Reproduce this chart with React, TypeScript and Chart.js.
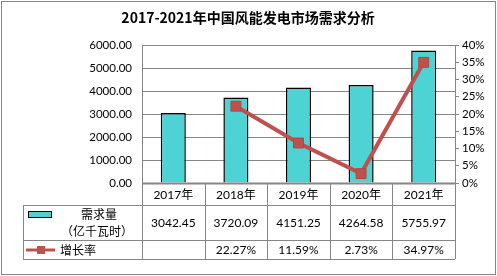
import React, { useEffect, useRef } from "react";
import { Chart, registerables } from "chart.js";

Chart.register(...registerables);

const title = "2017-2021年中国风能发电市场需求分析";
const categories = ["2017年", "2018年", "2019年", "2020年", "2021年"];
const demand = [3042.45, 3720.09, 4151.25, 4264.58, 5755.97];
const growth: (number | null)[] = [null, 22.27, 11.59, 2.73, 34.97];
const demandLabel = ["需求量", "（亿千瓦时）"];
const growthLabel = "增长率";
const demandText = ["3042.45", "3720.09", "4151.25", "4264.58", "5755.97"];
const growthText = ["", "22.27%", "11.59%", "2.73%", "34.97%"];

const BAR = "#4DD3D3";
const RED = "#C0504D";
const GRID = "#868686";
const NUM_FONT = "Lato, 'Noto Sans CJK SC', sans-serif";
const CJK_FONT = "'Noto Sans CJK SC', Lato, sans-serif";

const tablePlugin = {
  id: "tablePlugin",
  afterDraw(chart: any) {
    const ctx = chart.ctx as CanvasRenderingContext2D;
    const ca = chart.chartArea;
    const xs = chart.scales.x;
    const n = categories.length;
    const w = (ca.right - ca.left) / n;
    ctx.save();
    // outer border
    ctx.strokeStyle = GRID;
    ctx.lineWidth = 1;
    ctx.strokeRect(1.5, 1.5, 494, 273);
    // title
    ctx.fillStyle = "#000";
    ctx.font = `bold 14px ${CJK_FONT}`;
    ctx.textAlign = "center";
    ctx.textBaseline = "middle";
    ctx.fillText(title, 248, 18);

    const top = ca.bottom;
    const r1 = top + 22;
    const r2 = r1 + 35;
    const r3 = r2 + 19;
    const labelLeft = 23;
    // x axis line
    ctx.strokeStyle = GRID;
    ctx.lineWidth = 2;
    ctx.beginPath();
    ctx.moveTo(ca.left, top + 0.5);
    ctx.lineTo(ca.right, top + 0.5);
    ctx.stroke();
    ctx.lineWidth = 1;
    ctx.beginPath();
    // horizontal lines
    ctx.moveTo(labelLeft, r1 + 0.5);
    ctx.lineTo(ca.right, r1 + 0.5);
    ctx.moveTo(labelLeft, r2 + 0.5);
    ctx.lineTo(ca.right, r2 + 0.5);
    ctx.moveTo(labelLeft, r3 + 0.5);
    ctx.lineTo(ca.right, r3 + 0.5);
    // vertical lines
    for (let i = 0; i <= n; i++) {
      const x = Math.round(ca.left + i * w) + 0.5;
      ctx.moveTo(x, top);
      ctx.lineTo(x, r3);
    }
    ctx.moveTo(labelLeft + 0.5, r1);
    ctx.lineTo(labelLeft + 0.5, r3);
    ctx.stroke();

    // header + values
    for (let i = 0; i < n; i++) {
      const cx = xs.getPixelForValue(i);
      ctx.fillStyle = "#000";
      ctx.font = `12px ${NUM_FONT}`;
      ctx.fillText(categories[i], cx, (top + r1) / 2 + 1);
      ctx.fillText(demandText[i], cx, (r1 + r2) / 2 + 1);
      ctx.fillText(growthText[i], cx, (r2 + r3) / 2 + 1);
    }
    // legend swatch bar
    ctx.fillStyle = BAR;
    ctx.fillRect(28, 211, 24, 7);
    ctx.strokeStyle = "#000";
    ctx.strokeRect(28.5, 211.5, 23, 6);
    ctx.fillStyle = "#000";
    ctx.font = `12px ${CJK_FONT}`;
    ctx.fillText(demandLabel[0], 99, 214);
    ctx.fillText(demandLabel[1], 97, 231);
    // legend line
    const ly = (r2 + r3) / 2 + 0.5;
    ctx.strokeStyle = RED;
    ctx.lineWidth = 3;
    ctx.beginPath();
    ctx.moveTo(26, ly);
    ctx.lineTo(55, ly);
    ctx.stroke();
    ctx.fillStyle = RED;
    ctx.fillRect(37, ly - 4, 8, 8);
    ctx.fillStyle = "#000";
    ctx.textAlign = "left";
    ctx.fillText(growthLabel, 60, ly);
    ctx.restore();
  },
};

export default function App() {
  const ref = useRef<HTMLCanvasElement>(null);
  useEffect(() => {
    document.body.style.margin = "0";
    const chart = new Chart(ref.current!, {
      type: "bar",
      data: {
        labels: categories,
        datasets: [
          {
            type: "line",
            label: growthLabel,
            data: growth,
            yAxisID: "y1",
            borderColor: RED,
            backgroundColor: RED,
            borderWidth: 4,
            pointStyle: "rect",
            pointRadius: 7,
            pointBorderColor: "#B8433F",
            pointBorderWidth: 1,
            order: 0,
          } as any,
          {
            type: "bar",
            label: demandLabel.join(""),
            data: demand,
            yAxisID: "y",
            backgroundColor: BAR,
            borderColor: "#000",
            borderWidth: 1.5,
            categoryPercentage: 1,
            barPercentage: 0.4,
            order: 1,
          },
        ],
      },
      options: {
        responsive: false,
        animation: false,
        layout: { padding: { top: 45, bottom: 93, left: 0, right: 0 } },
        plugins: { legend: { display: false }, tooltip: { enabled: false }, title: { display: false } },
        scales: {
          x: { display: false },
          y: {
            position: "left",
            min: 0,
            max: 6000,
            ticks: {
              stepSize: 1000,
              color: "#000",
              padding: 10,
              font: { family: NUM_FONT, size: 11.5 },
              callback: (v: any) => Number(v).toFixed(2),
            },
            grid: { color: GRID, drawTicks: false },
            border: { color: GRID },
            afterFit: (s: any) => {
              s.width = 142;
            },
          },
          y1: {
            position: "right",
            min: 0,
            max: 40,
            ticks: {
              stepSize: 5,
              color: "#000",
              padding: 3,
              font: { family: NUM_FONT, size: 11.5 },
              callback: (v: any) => v + "%",
            },
            grid: { drawOnChartArea: false, drawTicks: true, tickLength: 4, color: GRID },
            border: { color: GRID },
            afterFit: (s: any) => {
              s.width = 42;
            },
          },
        } as any,
      },
      plugins: [tablePlugin],
    });
    return () => chart.destroy();
  }, []);
  return <canvas ref={ref} width={497} height={276} style={{ display: "block" }} />;
}
